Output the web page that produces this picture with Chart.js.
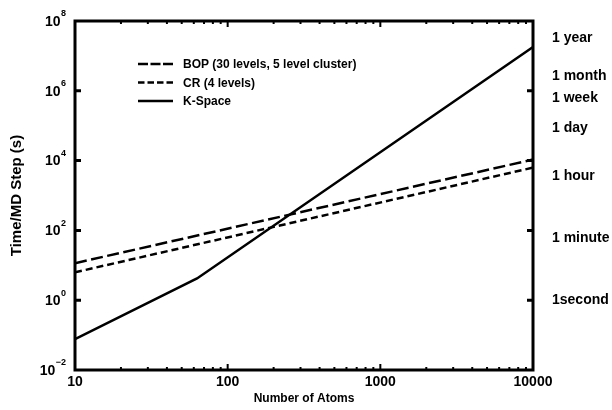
<!DOCTYPE html>
<html>
<head>
<meta charset="utf-8">
<script src="https://cdn.jsdelivr.net/npm/chart.js@4.4.0/dist/chart.umd.min.js"></script>
<style>
  html, body { margin: 0; padding: 0; background: #fff; }
  #wrap { width: 612px; height: 410px; }
</style>
</head>
<body>
<div id="wrap"><canvas id="myChart" width="612" height="410"></canvas></div>
<script>
// values
const bopAtoms = [10, 10000];
const bopTime = [11.5, 10700];
const crAtoms = [10, 10000];
const crTime = [6.3, 6300];
const kAtoms = [10, 63, 10000];
const kTime = [0.077, 4.2, 1.8e7];

const xTicks = [10, 100, 1000, 10000];
const yTicks = [1e-2, 1e0, 1e2, 1e4, 1e6, 1e8];
const timeValues = [1, 60, 3600, 86400, 604800, 2.63e6, 3.156e7];
const timeLabels = ['1second', '1 minute', '1 hour', '1 day', '1 week', '1 month', '1 year'];

const FONT = '"Liberation Sans", Arial, Helvetica, sans-serif';

const toPoints = (xs, ys) => xs.map((x, i) => ({ x: x, y: ys[i] }));

const noPad = s => { s.paddingTop = 0; s.paddingBottom = 0; };

const frameAndTicks = {
  id: 'frameAndTicks',
  afterDraw(chart) {
    const ctx = chart.ctx;
    const a = chart.chartArea;
    const xs = chart.scales.x, ys = chart.scales.y;
    ctx.save();
    ctx.strokeStyle = '#000';
    ctx.lineWidth = 3;
    ctx.strokeRect(a.left, a.top, a.right - a.left, a.bottom - a.top);

    // left / right decade ticks, pointing inward
    ctx.lineWidth = 3;
    [1e0, 1e2, 1e4, 1e6].forEach(v => {
      const py = ys.getPixelForValue(v);
      ctx.beginPath();
      ctx.moveTo(a.left, py); ctx.lineTo(a.left + 6, py);
      ctx.moveTo(a.right, py); ctx.lineTo(a.right - 6, py);
      ctx.stroke();
    });

    // top / bottom minor and major ticks
    ctx.lineWidth = 2;
    for (let d = 10; d < 10000; d *= 10) {
      for (let m = 1; m < 10; m++) {
        const v = d * m;
        if (v === 10) continue;
        const px = xs.getPixelForValue(v);
        const len = m === 1 ? 6 : 3;
        ctx.beginPath();
        ctx.moveTo(px, a.bottom); ctx.lineTo(px, a.bottom - len);
        ctx.moveTo(px, a.top); ctx.lineTo(px, a.top + len);
        ctx.stroke();
      }
    }

    // left tick labels with exponents
    ctx.fillStyle = '#000';
    ctx.textBaseline = 'middle';
    yTicks.forEach(v => {
      const py = ys.getPixelForValue(v);
      const exp = String(Math.round(Math.log10(v))).replace('-', '\u2212');
      ctx.font = 'bold 9px ' + FONT;
      const ew = ctx.measureText(exp).width;
      const ex = a.left - 9 - ew;
      ctx.textAlign = 'left';
      ctx.fillText(exp, ex, py - 7);
      ctx.font = 'bold 14px ' + FONT;
      ctx.textAlign = 'right';
      ctx.fillText('10', ex - 0.5, py + 1);
    });
    ctx.restore();
  }
};

const lineLegend = {
  id: 'lineLegend',
  afterDraw(chart) {
    const ctx = chart.ctx;
    const a = chart.chartArea;
    const x0 = a.left + 63;
    ctx.save();
    ctx.font = 'bold 12px ' + FONT;
    ctx.fillStyle = '#000';
    ctx.strokeStyle = '#000';
    ctx.textBaseline = 'middle';
    chart.data.datasets.forEach((ds, i) => {
      const y = a.top + 43 + i * 18.5;
      ctx.lineWidth = 2.5;
      ctx.setLineDash(ds.legendDash);
      ctx.beginPath();
      ctx.moveTo(x0, y); ctx.lineTo(x0 + 35, y);
      ctx.stroke();
      ctx.setLineDash([]);
      ctx.fillText(ds.label, x0 + 45, y + 1);
    });
    ctx.restore();
  }
};

const ctx = document.getElementById('myChart').getContext('2d');

new Chart(ctx, {
  type: 'line',
  data: {
    datasets: [{
      label: 'BOP (30 levels, 5 level cluster)',
      data: toPoints(bopAtoms, bopTime),
      borderColor: '#000',
      borderWidth: 2.5,
      borderDash: [12, 4.5],
      legendDash: [10, 2.5],
      pointRadius: 0,
      fill: false,
    }, {
      label: 'CR (4 levels)',
      data: toPoints(crAtoms, crTime),
      borderColor: '#000',
      borderWidth: 2.5,
      borderDash: [7, 4],
      legendDash: [6.5, 3],
      pointRadius: 0,
      fill: false,
    }, {
      label: 'K-Space',
      data: toPoints(kAtoms, kTime),
      borderColor: '#000',
      borderWidth: 2.5,
      borderDash: [],
      legendDash: [],
      pointRadius: 0,
      fill: false,
    }]
  },
  options: {
    responsive: false,
    animation: false,
    layout: { padding: { top: 21, left: 0, right: 0, bottom: 0 } },
    plugins: {
      legend: { display: false },
      tooltip: { enabled: false },
    },
    scales: {
      x: {
        type: 'logarithmic',
        position: 'bottom',
        min: 10,
        max: 10000,
        afterBuildTicks: s => { s.ticks = xTicks.map(v => ({ value: v })); },
        afterFit: s => { s.height = 40; s.paddingLeft = 0; s.paddingRight = 0; },
        grid: { display: false, drawTicks: false },
        border: { display: false },
        ticks: {
          color: '#000',
          font: { family: FONT, size: 14, weight: 'bold' },
          padding: 4,
          maxRotation: 0,
          callback: v => String(v),
        },
        title: {
          display: true,
          text: 'Number of Atoms',
          color: '#000',
          font: { family: FONT, size: 12, weight: 'bold' },
        },
      },
      y: {
        type: 'logarithmic',
        position: 'left',
        min: 1e-2,
        max: 1e8,
        afterFit: s => { s.width = 75; noPad(s); },
        grid: { display: false, drawTicks: false },
        border: { display: false },
        ticks: { display: false },
        title: {
          display: true,
          text: 'Time/MD Step (s)',
          color: '#000',
          font: { family: FONT, size: 15, weight: 'bold' },
          padding: { top: 8, bottom: 0 },
        },
      },
      y2: {
        type: 'logarithmic',
        position: 'right',
        min: 1e-2,
        max: 1e8,
        afterBuildTicks: s => { s.ticks = timeValues.map(v => ({ value: v })); },
        afterFit: s => { s.width = 79; noPad(s); },
        grid: { display: false, drawTicks: false },
        border: { display: false },
        ticks: {
          color: '#000',
          font: { family: FONT, size: 14, weight: 'bold' },
          padding: 19,
          autoSkip: false,
          callback: (v, i) => timeLabels[i],
        },
      },
    },
  },
  plugins: [frameAndTicks, lineLegend],
});
</script>
</body>
</html>
